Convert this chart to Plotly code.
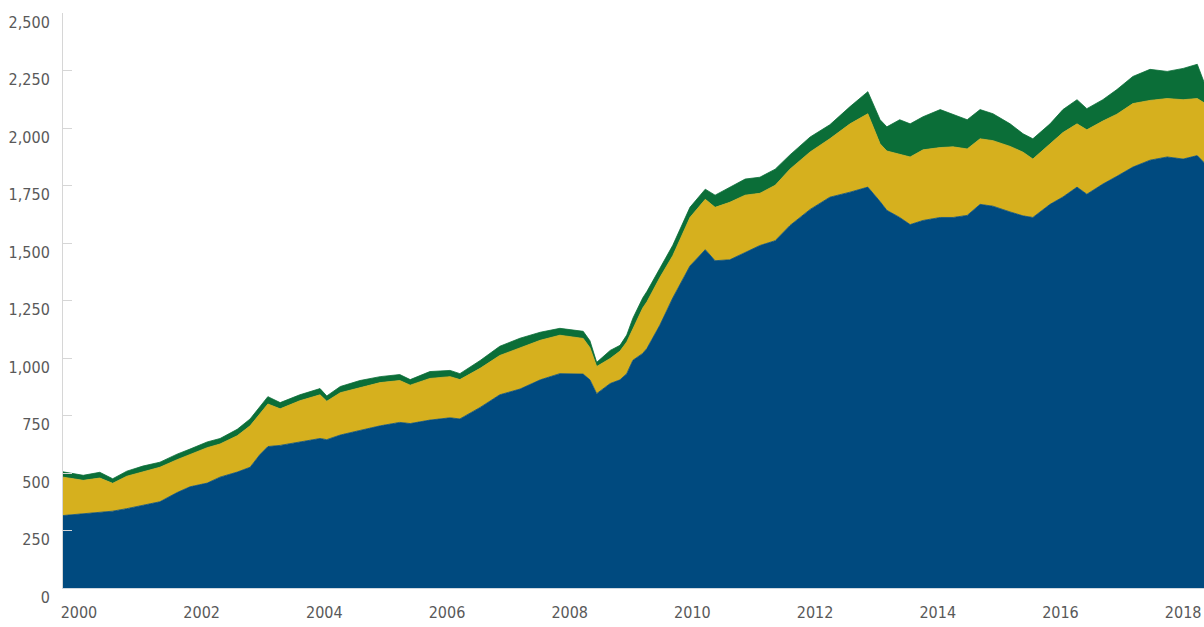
import plotly.graph_objects as go

# Decimal-year x positions
years = [1999.74, 2000.07, 2000.34, 2000.55, 2000.78, 2001.04, 2001.32, 2001.60, 2001.81, 2002.09,
         2002.30, 2002.58, 2002.79, 2002.95, 2003.08, 2003.28, 2003.60, 2003.93, 2004.04, 2004.26,
         2004.58, 2004.91, 2005.23, 2005.40, 2005.72, 2006.05, 2006.21, 2006.54, 2006.86, 2007.19,
         2007.52, 2007.84, 2008.22, 2008.33, 2008.44, 2008.66, 2008.82, 2008.93, 2009.03, 2009.19,
         2009.26, 2009.47, 2009.68, 2009.96, 2010.21, 2010.37, 2010.61, 2010.86, 2011.10, 2011.35,
         2011.59, 2011.92, 2012.24, 2012.57, 2012.86, 2013.06, 2013.17, 2013.38, 2013.55, 2013.76,
         2014.04, 2014.25, 2014.48, 2014.69, 2014.90, 2015.18, 2015.39, 2015.55, 2015.83, 2016.04,
         2016.27, 2016.43, 2016.69, 2016.92, 2017.18, 2017.46, 2017.74, 2018.00, 2018.23, 2018.34]

blue = [315, 322, 328, 334, 345, 360, 375, 415, 440, 456,
        482, 504, 525, 580, 615, 620, 635, 650, 645, 665,
        685, 705, 720, 715, 730, 740, 735, 785, 840, 865,
        905, 932, 930, 905, 845, 889, 905, 932, 990, 1020,
        1042, 1143, 1261, 1400, 1471, 1423, 1427, 1460, 1489, 1510,
        1576, 1646, 1699, 1721, 1743, 1680, 1642, 1611, 1580, 1598,
        1611, 1611, 1620, 1668, 1660, 1635, 1618, 1611, 1668, 1700,
        1743, 1712, 1756, 1790, 1830, 1860, 1874, 1865, 1880, 1850]

yellow = [167, 146, 150, 121, 141, 146, 150, 143, 140, 154,
          144, 158, 180, 180, 185, 159, 179, 190, 167, 184,
          187, 188, 182, 167, 181, 179, 171, 170, 171, 180,
          172, 167, 155, 140, 118, 109, 125, 138, 139, 197,
          203, 207, 184, 211, 219, 232, 250, 248, 227, 241,
          245, 250, 254, 297, 319, 251, 258, 276, 294, 307,
          304, 307, 289, 285, 285, 285, 277, 254, 263, 280,
          275, 280, 274, 270, 276, 260, 254, 258, 248, 260]

green = [23, 22, 25, 20, 22, 24, 22, 24, 24, 25,
         24, 28, 30, 30, 32, 27, 26, 27, 23, 27,
         30, 26, 26, 24, 30, 27, 26, 34, 40, 41,
         35, 30, 31, 30, 18, 35, 25, 30, 44, 44,
         45, 40, 45, 44, 44, 53, 66, 70, 70, 70,
         62, 65, 61, 75, 96, 105, 105, 149, 144, 144,
         165, 140, 127, 127, 117, 98, 80, 88, 87, 100,
         105, 92, 93, 107, 118, 135, 118, 136, 149, 90]

x_ticks = [2000, 2002, 2004, 2006, 2008, 2010, 2012, 2014, 2016, 2018]
y_ticks = [0, 250, 500, 750, 1000, 1250, 1500, 1750, 2000, 2250, 2500]

series = [("Blue", blue, "#004a7f"), ("Yellow", yellow, "#d6b01e"), ("Green", green, "#0b6e38")]

FONT = "DejaVu Sans Condensed, Liberation Sans Narrow, sans-serif"

fig = go.Figure()
for name, vals, col in series:
    fig.add_trace(go.Scatter(
        x=years, y=vals, name=name, mode="lines", stackgroup="one",
        line=dict(color=col, width=0.8), fillcolor=col, hoverinfo="x+y",
    ))

fig.update_layout(
    width=1204, height=627,
    margin=dict(l=63, r=0, t=13, b=39, autoexpand=False),
    paper_bgcolor="white", plot_bgcolor="white",
    showlegend=False,
    font=dict(family=FONT, color="#595959"),
)
fig.update_xaxes(
    range=[1999.74, 2018.34], tickvals=x_ticks, ticktext=[str(v) for v in x_ticks],
    showgrid=False, zeroline=False, showline=True, linecolor="#cfd8e0", linewidth=1,
    ticks="", tickfont=dict(size=16, color="#595959"), ticklabelstandoff=10,
    ticklabeloverflow="allow", automargin=False,
)
fig.update_yaxes(
    range=[0, 2500], tickvals=y_ticks, ticktext=[f"{v:,}" for v in y_ticks],
    showgrid=False, zeroline=False, showline=True, linecolor="#d6d6d6", linewidth=1,
    ticks="inside", ticklen=9, tickcolor="#d6d6d6",
    tickfont=dict(size=16, color="#595959"), ticklabelstandoff=9, ticklabelshift=9,
    ticklabeloverflow="allow", automargin=False,
)

fig.write_html(
    "out.html",
    config={"displayModeBar": False},
    post_script="document.body.style.margin='0';document.body.style.overflow='hidden';",
)
